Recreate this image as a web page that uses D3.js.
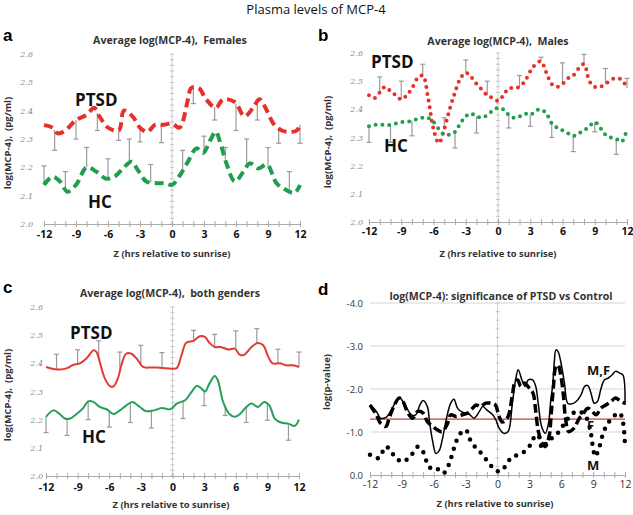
<!DOCTYPE html>
<html><head><meta charset="utf-8">
<script src="https://cdn.jsdelivr.net/npm/d3@7/dist/d3.min.js"></script>
<style>body{margin:0;background:#fff}svg{display:block}</style>
</head><body><svg id="chart" width="633" height="515"></svg>
<script>
// ---------- DATA ----------
const xTicks = [-12, -9, -6, -3, 0, 3, 6, 9, 12];
const yTicksConc = [2.0, 2.1, 2.2, 2.3, 2.4, 2.5, 2.6];
const yTicksP = [0, -1, -2, -3, -4];

// Panel a: Females
const aPtsdHours = [-12,-11.2,-10.7,-10,-9,-8,-7.3,-6.8,-6,-5,-4.5,-3.7,-3,-2.3,-1.6,-0.8,0,0.7,1.5,1.8,2.5,3.2,4.1,4.8,5.9,6.8,7.6,8.2,8.9,9.5,10.3,11.1,11.7,12];
const aPtsdVals  = [2.349,2.34,2.32,2.33,2.367,2.385,2.41,2.38,2.34,2.33,2.40,2.38,2.34,2.325,2.35,2.35,2.355,2.34,2.44,2.48,2.48,2.44,2.41,2.44,2.43,2.38,2.41,2.44,2.40,2.355,2.33,2.325,2.33,2.35];
const aHcHours = [-12,-11.2,-10.5,-9.8,-9,-8,-7.1,-6.2,-5.4,-4.6,-3.8,-3.2,-2.4,-1.4,-0.7,0,0.75,1.5,2.3,2.9,3.6,4.1,4.5,5.1,5.9,6.7,7.3,8.1,8.9,9.8,10.7,11.5,12];
const aHcVals  = [2.138,2.167,2.15,2.114,2.138,2.20,2.185,2.16,2.167,2.196,2.22,2.19,2.15,2.144,2.144,2.138,2.173,2.22,2.267,2.25,2.297,2.326,2.29,2.214,2.15,2.185,2.214,2.196,2.21,2.144,2.12,2.11,2.138];
const aPtsdErrHours = [-11,-9,-7,-5,-3,-1,2,4,6,8,10,12];
const aPtsdErrEnds  = [2.26,2.30,2.33,2.295,2.29,2.287,2.425,2.367,2.33,2.367,2.285,2.285];
const aHcErrHours = [-12,-10,-8,-6,-4,-2,1,3,5,7,9,11];
const aHcErrEnds  = [2.205,2.185,2.27,2.23,2.30,2.21,2.26,2.31,2.27,2.30,2.27,2.185];

// Panel b: Males
const bHours = [-12,-11.5,-11,-10.5,-10,-9.5,-9,-8.5,-8,-7.5,-7,-6.5,-6,-5.5,-5,-4.5,-4,-3.5,-3,-2.5,-2,-1.5,-1,-0.5,0,0.5,1,1.5,2,2.5,3,3.5,4,4.5,5,5.5,6,6.5,7,7.5,8,8.5,9,9.5,10,10.5,11,11.5,12];
const bPtsdVals = [2.45,2.44,2.46,2.48,2.465,2.45,2.435,2.45,2.475,2.51,2.52,2.44,2.33,2.28,2.33,2.40,2.46,2.51,2.53,2.515,2.49,2.47,2.45,2.44,2.43,2.45,2.475,2.475,2.48,2.50,2.535,2.56,2.57,2.53,2.49,2.48,2.49,2.51,2.52,2.545,2.56,2.50,2.48,2.48,2.49,2.505,2.51,2.505,2.475];
const bHcVals = [2.34,2.345,2.345,2.345,2.345,2.35,2.355,2.355,2.36,2.365,2.37,2.37,2.355,2.33,2.31,2.31,2.32,2.35,2.375,2.385,2.375,2.37,2.38,2.395,2.405,2.40,2.38,2.37,2.375,2.385,2.38,2.395,2.40,2.385,2.35,2.335,2.325,2.315,2.305,2.315,2.325,2.34,2.355,2.335,2.31,2.30,2.295,2.285,2.33];
const bPtsdErrHours = [-11,-9,-7,-5,-3,-1,2,4,6,8,10,12];
const bPtsdErrEnds  = [2.515,2.50,2.56,2.37,2.575,2.50,2.52,2.585,2.565,2.595,2.545,2.51];
const bHcErrHours = [-12,-10,-8,-4,-2,1,3,5,7,9,11];
const bHcErrEnds  = [2.283,2.283,2.306,2.263,2.316,2.334,2.34,2.30,2.25,2.32,2.24];

// Panel c: both genders
const cPtsdHours = [-12,-11.3,-10.7,-10,-9.4,-8.8,-8.1,-7.5,-7.2,-6.9,-6.4,-5.9,-5.6,-5.2,-4.8,-4.4,-3.9,-3.4,-2.8,-2.1,-1.5,-0.9,0,0.4,0.85,1.3,2,2.6,3.1,3.5,4,4.6,5.3,5.9,6.4,6.8,7.5,8.1,8.6,9.1,9.5,10.2,10.8,11.4,12];
const cPtsdVals  = [2.387,2.38,2.378,2.383,2.395,2.40,2.42,2.446,2.44,2.405,2.345,2.318,2.318,2.345,2.40,2.434,2.434,2.417,2.387,2.385,2.385,2.383,2.381,2.383,2.428,2.473,2.48,2.496,2.493,2.473,2.458,2.458,2.449,2.452,2.43,2.43,2.458,2.472,2.464,2.422,2.40,2.40,2.393,2.393,2.387];
const cHcHours = [-12,-11.3,-10.7,-10.2,-9.7,-9.1,-8.5,-8.0,-7.5,-6.9,-6.25,-5.6,-5.0,-4.4,-3.8,-3.1,-2.5,-1.8,-1.0,-0.2,0.4,1.2,1.8,2.3,2.7,3.1,3.5,4.0,4.3,4.8,5.4,5.9,6.4,7.0,7.5,8.1,8.7,9.2,9.7,10.3,11.0,11.6,12];
const cHcVals  = [2.21,2.233,2.22,2.204,2.204,2.22,2.24,2.265,2.263,2.245,2.237,2.22,2.233,2.25,2.263,2.245,2.23,2.233,2.241,2.237,2.257,2.269,2.298,2.32,2.312,2.30,2.328,2.355,2.34,2.263,2.22,2.21,2.22,2.245,2.257,2.245,2.263,2.25,2.204,2.19,2.186,2.178,2.20];
const cPtsdErrHours = [-11,-9,-7,-5,-3,-1,2,4,6,8,10,12];
const cPtsdErrEnds  = [2.432,2.448,2.48,2.44,2.464,2.438,2.517,2.503,2.515,2.523,2.45,2.44];
const cHcErrHours = [-12,-10,-8,-6,-4,-2,1,3,5,7,9,11];
const cHcErrEnds  = [2.154,2.144,2.20,2.174,2.19,2.17,2.204,2.25,2.215,2.19,2.198,2.127];

// Panel d: significance, log(p-value)
const dMFHours = [-12,-11.4,-11,-10.5,-10,-9.55,-9.2,-8.8,-8.1,-7.7,-7.3,-7.0,-6.6,-6.4,-6.1,-5.8,-5.5,-5.2,-4.8,-4.4,-4.1,-3.75,-3.3,-2.65,-2.2,-1.7,-1.4,-0.9,-0.45,-0.15,0.15,0.6,1.0,1.4,1.7,1.95,2.3,2.6,2.9,3.3,3.6,3.85,4.15,4.5,4.8,5.0,5.2,5.35,5.5,5.7,5.95,6.3,6.6,6.9,7.4,7.85,8.2,8.5,8.8,9.1,9.4,9.75,10.05,10.4,10.8,11.1,11.5,11.8,12];
const dMFVals  = [-1.63,-1.48,-1.32,-1.34,-1.51,-1.71,-1.79,-1.67,-1.40,-1.40,-1.63,-1.73,-1.59,-1.24,-0.78,-0.50,-0.56,-0.82,-1.32,-1.67,-1.76,-1.55,-1.46,-1.41,-1.32,-1.48,-1.59,-1.49,-1.40,-1.28,-1.09,-0.97,-1.01,-1.67,-2.21,-2.45,-2.21,-2.06,-2.21,-2.21,-2.06,-1.63,-1.13,-0.97,-1.20,-1.71,-2.10,-2.64,-2.91,-2.87,-2.64,-2.14,-1.67,-1.65,-1.71,-1.86,-2.06,-2.08,-1.90,-1.67,-1.71,-2.02,-2.21,-2.25,-2.33,-2.41,-2.37,-2.33,-1.63];
const dFHours = [-12,-11.4,-11,-10.5,-10.2,-9.7,-9.25,-8.9,-8.5,-8.0,-7.5,-7.0,-6.6,-6.1,-5.65,-5.2,-4.7,-4.4,-3.9,-3.3,-2.8,-2.35,-2.0,-1.6,-1.1,-0.6,-0.2,0.1,0.4,0.6,1.0,1.4,1.65,1.9,2.2,2.5,3.0,3.35,3.6,3.85,4.2,4.5,4.85,5.05,5.25,5.5,5.7,5.95,6.2,6.4,6.7,7.2,7.7,8.0,8.5,8.9,9.3,9.7,10.2,10.7,11.1,11.6,12];
const dFVals  = [-1.63,-1.40,-1.20,-1.13,-1.32,-1.63,-1.79,-1.71,-1.48,-1.32,-1.48,-1.44,-1.24,-1.13,-1.05,-1.01,-1.20,-1.40,-1.36,-1.40,-1.44,-1.55,-1.63,-1.59,-1.67,-1.67,-1.63,-1.40,-1.24,-1.24,-1.36,-1.86,-2.17,-2.21,-2.06,-2.14,-2.02,-1.90,-1.48,-1.01,-0.74,-0.66,-0.89,-1.40,-2.02,-2.52,-2.56,-2.33,-1.86,-1.32,-1.01,-1.09,-1.32,-1.40,-1.55,-1.48,-1.40,-1.55,-1.63,-1.71,-1.79,-1.71,-1.67];
const dMHours = [-12,-11.2,-10.5,-10,-9.55,-8.9,-8.1,-7.5,-7.0,-6.6,-6.1,-5.55,-5.1,-4.6,-4.1,-3.6,-3.0,-2.5,-2.0,-1.4,-0.8,-0.2,0.2,0.7,1.25,1.9,2.5,3.1,3.6,3.9,4.2,4.7,5.2,5.8,6.4,7.1,7.7,8.3,8.7,9.0,9.2,9.6,10,10.5,11.1,11.5,11.8,12];
const dMVals  = [-0.47,-0.39,-0.66,-0.54,-0.39,-0.31,-0.47,-0.66,-0.54,-0.27,-0.12,-0.13,-0.04,-0.23,-0.62,-0.93,-1.05,-0.78,-0.62,-0.47,-0.27,-0.12,-0.08,-0.19,-0.39,-0.47,-0.54,-0.70,-0.93,-0.89,-0.62,-0.78,-0.87,-1.01,-1.24,-1.44,-1.48,-1.36,-1.09,-0.62,-0.43,-0.66,-1.01,-1.24,-1.40,-1.44,-1.24,-0.70];
const dThreshold = -1.3;

// ---------- DRAWING ----------
const svg = d3.select("#chart");
const FONT = "'Open Sans', 'DejaVu Sans', sans-serif";
const RED = "#e4312b", GREEN = "#1f9f4b", RED_C = "#e23b35", GREEN_C = "#23a05a", ERR = "#9a9a9a";

svg.append("text").attr("x", 316).attr("y", 14).attr("text-anchor", "middle")
  .style("font-family", FONT).style("font-size", "13px").attr("fill", "#111")
  .text("Plasma levels of MCP-4");

function interp(hs, vs, h) {
  for (let i = 0; i < hs.length - 1; i++) {
    if (h >= hs[i] && h <= hs[i + 1]) {
      const t = (h - hs[i]) / (hs[i + 1] - hs[i]);
      return vs[i] + t * (vs[i + 1] - vs[i]);
    }
  }
  return h < hs[0] ? vs[0] : vs[vs.length - 1];
}

function makePanel(o) {
  const x = d3.scaleLinear().domain([-12, 12]).range(o.xr);
  const y = d3.scaleLinear().domain(o.yd).range(o.yr);
  const g = svg.append("g");

  if (o.grid) {
    g.selectAll(".grid").data(o.yTicks.filter(v => v !== 0)).enter().append("line")
      .attr("x1", o.xr[0]).attr("x2", o.xr[1])
      .attr("y1", d => y(d)).attr("y2", d => y(d))
      .attr("stroke", "#d6d6d6").attr("stroke-width", 1);
  }

  g.append("line").attr("x1", x(0)).attr("x2", x(0))
    .attr("y1", o.yr[0]).attr("y2", o.yr[1]).attr("stroke", "#cfcfcf").attr("stroke-width", 1);
  const vt = [];
  for (let v = o.yd[0]; (o.yd[1] > o.yd[0]) ? v <= o.yd[1] + 1e-9 : v >= o.yd[1] - 1e-9; v += o.vStep) vt.push(v);
  g.selectAll(".vt").data(vt).enter().append("line")
    .attr("x1", x(0) - 2).attr("x2", x(0) + 2)
    .attr("y1", d => y(d)).attr("y2", d => y(d))
    .attr("stroke", "#c4c4c4").attr("stroke-width", 1);

  const xAxis = d3.axisBottom(x).tickValues(d3.range(-12, 13, 1)).tickSize(3)
    .tickFormat(d => xTicks.includes(d) ? d : "");
  const xa = g.append("g").attr("transform", `translate(0,${o.yr[0]})`).call(xAxis);
  xa.select(".domain").attr("stroke", "#aaaaaa");
  xa.selectAll(".tick line").attr("stroke", "#aaaaaa").attr("y1", -3).attr("y2", 3);
  xa.selectAll(".tick text").attr("y", o.xTickDy).attr("dy", 0)
    .style("font-family", FONT).style("font-size", "10.5px")
    .style("font-weight", o.boldX ? "700" : "400").attr("fill", o.boldX ? "#111" : "#333");

  const yAxis = d3.axisLeft(y).tickValues(o.yTicks).tickSize(0)
    .tickFormat(d => d.toFixed(1));
  const ya = g.append("g").attr("transform", `translate(${o.yLabX},0)`).call(yAxis);
  ya.select(".domain").remove();
  ya.selectAll(".tick text").attr("x", 0).attr("dy", "0.32em")
    .style("font-family", o.grid ? FONT : "'DejaVu Serif', serif")
    .style("font-style", o.grid ? "normal" : "italic")
    .style("font-size", o.grid ? "9.5px" : "8px")
    .attr("fill", o.grid ? "#333" : "#8a8a8a");

  if (o.threshold !== undefined) {
    g.append("line").attr("x1", o.xr[0]).attr("x2", o.xr[1])
      .attr("y1", y(o.threshold)).attr("y2", y(o.threshold))
      .attr("stroke", "#c8413c").attr("stroke-width", 1.3);
  }

  (o.errs || []).forEach(e => {
    const pts = e.hours.map((h, i) => ({ h, base: interp(e.sh, e.sv, h), end: e.ends[i] }));
    g.selectAll(null).data(pts).enter().append("line")
      .attr("x1", d => x(d.h)).attr("x2", d => x(d.h))
      .attr("y1", d => y(d.base)).attr("y2", d => y(d.end))
      .attr("stroke", ERR).attr("stroke-width", 1.2);
    g.selectAll(null).data(pts).enter().append("line")
      .attr("x1", d => x(d.h) - 2.5).attr("x2", d => x(d.h) + 2.5)
      .attr("y1", d => y(d.end)).attr("y2", d => y(d.end))
      .attr("stroke", ERR).attr("stroke-width", 1.2);
  });

  o.series.forEach(s => {
    const line = d3.line().x((d, i) => x(s.h[i])).y((d, i) => y(s.v[i]))
      .curve(d3.curveCatmullRom.alpha(0.5));
    g.append("path").datum(s.v).attr("d", line)
      .attr("fill", "none").attr("stroke", s.color).attr("stroke-width", s.width)
      .attr("stroke-dasharray", s.dash || null)
      .attr("stroke-linecap", s.cap || "butt").attr("stroke-linejoin", "round");
  });

  g.append("text").attr("x", o.letter[0]).attr("y", o.letter[1])
    .style("font-family", "'Liberation Sans', Arial, sans-serif").style("font-weight", "700")
    .style("font-size", "17px").attr("fill", "#000").text(o.letter[2]);
  g.append("text").attr("x", o.title[0]).attr("y", o.title[1]).attr("text-anchor", "middle")
    .style("font-family", FONT).style("font-weight", "700").style("font-size", "10.6px")
    .attr("fill", "#333").attr("xml:space", "preserve").text(o.title[2]);
  g.append("text").attr("transform", `translate(${o.ylab[0]},${o.ylab[1]}) rotate(-90)`)
    .attr("text-anchor", "middle")
    .style("font-family", FONT).style("font-weight", "700").style("font-size", "9.6px")
    .attr("fill", "#333").attr("xml:space", "preserve").text(o.ylab[2]);
  g.append("text").attr("x", o.xlab[0]).attr("y", o.xlab[1]).attr("text-anchor", "middle")
    .style("font-family", FONT).style("font-weight", "700").style("font-size", "9.4px")
    .attr("fill", "#333").text("Z (hrs relative to sunrise)");
  (o.labels || []).forEach(l => {
    g.append("text").attr("x", l[0]).attr("y", l[1])
      .style("font-family", FONT).style("font-weight", "700").style("font-size", l[3] || "17px")
      .attr("fill", "#111").text(l[2]);
  });
}

// Panel a
makePanel({
  xr: [44, 300], yd: [2.0, 2.6], yr: [224, 54], yTicks: yTicksConc, vStep: 0.02,
  yLabX: 33, xTickDy: 14, boldX: true,
  letter: [3, 41, "a"], title: [170, 44, "Average log(MCP-4),  Females"],
  ylab: [11, 143, "log(MCP-4),  (pg/ml)"], xlab: [172, 257],
  errs: [
    { hours: aPtsdErrHours, ends: aPtsdErrEnds, sh: aPtsdHours, sv: aPtsdVals },
    { hours: aHcErrHours, ends: aHcErrEnds, sh: aHcHours, sv: aHcVals }
  ],
  series: [
    { h: aPtsdHours, v: aPtsdVals, color: RED, width: 4, dash: "9,5" },
    { h: aHcHours, v: aHcVals, color: GREEN, width: 4, dash: "9,5" }
  ],
  labels: [[75, 106, "PTSD"], [88, 208, "HC"]]
});

// Panel b
makePanel({
  xr: [369, 627], yd: [2.0, 2.6], yr: [222, 53], yTicks: yTicksConc, vStep: 0.02,
  yLabX: 363, xTickDy: 13, boldX: true,
  letter: [318, 41, "b"], title: [498, 45, "Average log(MCP-4),  Males"],
  ylab: [331, 142, "log(MCP-4),  (pg/ml)"], xlab: [498, 257],
  errs: [
    { hours: bPtsdErrHours, ends: bPtsdErrEnds, sh: bHours, sv: bPtsdVals },
    { hours: bHcErrHours, ends: bHcErrEnds, sh: bHours, sv: bHcVals }
  ],
  series: [
    { h: bHours, v: bPtsdVals, color: RED, width: 4, dash: "0,6.8", cap: "round" },
    { h: bHours, v: bHcVals, color: GREEN, width: 4, dash: "0,6.8", cap: "round" }
  ],
  labels: [[371, 68, "PTSD"], [384, 152, "HC"]]
});

// Panel c
makePanel({
  xr: [46, 299], yd: [2.0, 2.6], yr: [476, 307], yTicks: yTicksConc, vStep: 0.02,
  yLabX: 43, xTickDy: 15, boldX: true,
  letter: [3, 293, "c"], title: [170, 297, "Average log(MCP-4),  both genders"],
  ylab: [11, 395, "log(MCP-4),  (pg/ml)"], xlab: [171, 508],
  errs: [
    { hours: cPtsdErrHours, ends: cPtsdErrEnds, sh: cPtsdHours, sv: cPtsdVals },
    { hours: cHcErrHours, ends: cHcErrEnds, sh: cHcHours, sv: cHcVals }
  ],
  series: [
    { h: cPtsdHours, v: cPtsdVals, color: RED_C, width: 2 },
    { h: cHcHours, v: cHcVals, color: GREEN_C, width: 2 }
  ],
  labels: [[70, 339, "PTSD"], [82, 443, "HC"]]
});

// Panel d
makePanel({
  xr: [370, 625], yd: [0, -4], yr: [475, 303], yTicks: yTicksP, vStep: -0.2,
  yLabX: 363, xTickDy: 13, boldX: false, grid: true, threshold: dThreshold,
  letter: [318, 295, "d"], title: [501, 300, "log(MCP-4): significance of PTSD vs Control"],
  ylab: [330, 382, "log(p-value)"], xlab: [495, 507],
  series: [
    { h: dMFHours, v: dMFVals, color: "#000", width: 1.5 },
    { h: dFHours, v: dFVals, color: "#000", width: 3.5, dash: "9,4" },
    { h: dMHours, v: dMVals, color: "#000", width: 4.5, dash: "0,8.5", cap: "round" }
  ],
  labels: [[587, 375, "M,F", "13px"], [587, 430, "F", "13px"], [587, 470, "M", "13px"]]
});
</script>
</body></html>
